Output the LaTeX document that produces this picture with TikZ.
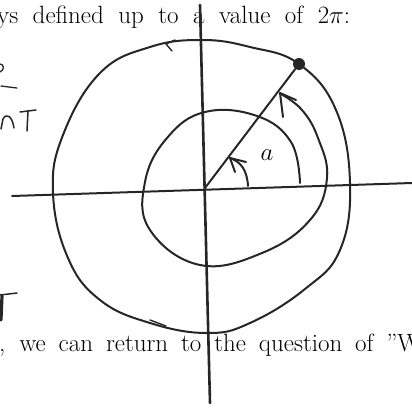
\documentclass[tikz,border=0pt]{standalone}
\usetikzlibrary{positioning}
\begin{document}
\begin{tikzpicture}[x=1pt, y=-1pt,
    pen/.style={line width=2pt, line cap=round, line join=round, black!85},
    printed/.style={anchor=base west, inner sep=0pt, font=\fontsize{25}{30}\selectfont}]
\useasboundingbox (0,0) rectangle (412,407);
\clip (0,0) rectangle (412,407);

% printed lines of the page
\node[printed] (toptext) at (-3,23) {\makebox[353pt][s]{ys defined up to a value of $2\pi$:}};
\node[printed] (bottext) at (-1,351) {\makebox[422pt][s]{, we can return to the question of ''W}};

% scraps of the neighbouring sketch
\draw[pen, line width=1.3pt] (0,64) .. controls (4,64) and (5,70) .. (0,72);
\draw[pen, line width=1.3pt] (1,86) -- (17,88);
\draw[pen, line width=1.5pt] (1,129) -- (3,119) .. controls (6,113) and (12,115) .. (14,128);
\draw[pen, line width=1.5pt] (20,112) -- (36,110);
\draw[pen, line width=1.5pt] (28,111) -- (27,131);
\draw[pen, line width=1.5pt] (0,295) -- (17,293);
\draw[pen, line width=3.2pt] (2,296) -- (1,320);

% axes
\coordinate (xl) at (12,196);
\coordinate (xr) at (412,183);
\coordinate (yt) at (200,5);
\coordinate (yb) at (210,403);
\coordinate (o) at (205,188);
\draw[pen] (xl) -- (xr);
\draw[pen, line width=2.6pt] (yt) -- (yb);

% point on the circle and its radius
\node[shape=circle, fill=black!85, inner sep=0pt, minimum size=12pt] (p) at (299,64) {};
\draw[pen] (o) -- (p);

% outer loop
\draw[pen] plot[smooth cycle, tension=0.7] coordinates {(299,64) (336,110) (350,183) (340,250) (305,289) (250,323) (207,333) (150,323) (100,300) (68,258) (53,193) (63,135) (100,73) (150,47) (202,40) (250,47)};
\draw[pen, line width=1.4pt] (175,40) -- (166,44) -- (172,51);
\draw[pen, line width=1.4pt] (150,320) -- (166,326);

% inner spiral, once round and on to the radius
\draw[pen] plot[smooth, tension=0.7] coordinates {(300,183) (291,142) (257,116) (205,112) (167,138) (145,182) (150,230) (200,265) (262,253) (310,220) (327,178) (318,138) (302,110) (281,94)};
\draw[pen] (296,100) -- (280,93) -- (283,117);

% angle a
\draw[pen] (248,186) .. controls (247,170) and (241,162) .. (230,158);
\draw[pen] (246,162) -- (230,158) -- (235,172);
\node[font=\fontsize{34}{34}\selectfont] (a) at (267,155) {$a$};
\end{tikzpicture}
\end{document}
